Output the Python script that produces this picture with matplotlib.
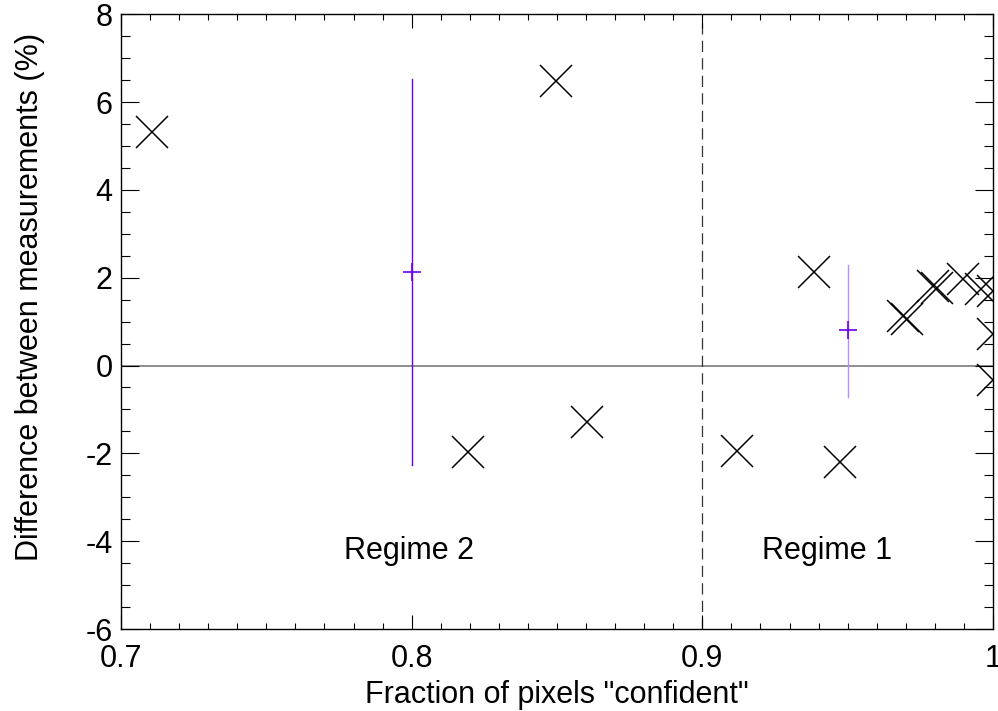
import numpy as np
import matplotlib
matplotlib.use("Agg")
import matplotlib.pyplot as plt
from matplotlib.ticker import MultipleLocator

plt.rcParams['font.family'] = ['Liberation Sans', 'DejaVu Sans']
plt.rcParams['axes.unicode_minus'] = False

# individual measurements (fraction confident, difference %)
frac = [0.7107, 0.8496, 0.8194, 0.8603, 0.9384, 0.9119, 0.9473,
        0.9690, 0.9703, 0.9793, 0.9808, 0.9898, 0.9958,
        1.0, 1.0, 1.0]
diff = [5.31, 6.47, -1.98, -1.28, 2.12, -1.94, -2.19,
        1.13, 1.07, 1.80, 1.76, 1.97, 1.74,
        1.69, 0.72, -0.32]

# regime means with error bars
reg_x = [0.80, 0.95]
reg_mean = [2.14, 0.80]
reg_low = [-2.26, -0.71]
reg_high = [6.52, 2.30]
reg_names = ["Regime 2", "Regime 1"]
reg_label_x = [0.799, 0.943]
reg_bar_colors = ['#6a00f0', '#b48cff']

fig = plt.figure(figsize=(9.98, 7.11), dpi=100)
ax = fig.add_axes([0.1212, 0.1153, 0.8738, 0.8647])

ax.plot(frac, diff, linestyle='none', marker='x', ms=23, mew=1.1, color='black')

for x, m, lo, hi, c in zip(reg_x, reg_mean, reg_low, reg_high, reg_bar_colors):
    ax.plot([x, x], [lo, hi], color=c, lw=1.0, zorder=3)
    ax.plot([x], [m], marker='+', ms=13, mew=1.2, color='#6a00f0', zorder=4)

ax.axhline(0, color='#707070', lw=1.1, zorder=1)
ax.axvline(0.9, color='#333333', lw=0.9, dashes=(9, 5), zorder=1)

for name, lx in zip(reg_names, reg_label_x):
    ax.text(lx, -4.22, name, ha='center', va='center', fontsize=22)

ax.set_xlim(0.7, 1.0)
ax.set_ylim(-6, 8)
ax.xaxis.set_major_locator(MultipleLocator(0.1))
ax.xaxis.set_minor_locator(MultipleLocator(0.01))
ax.yaxis.set_major_locator(MultipleLocator(2))
ax.yaxis.set_minor_locator(MultipleLocator(0.5))
ax.set_xticks([0.7, 0.8, 0.9, 1.0])
ax.set_xticklabels(['0.7', '0.8', '0.9', '1'])

ax.tick_params(axis='both', which='both', direction='in', top=True, right=True,
               labelsize=22, width=0.8)
ax.tick_params(axis='x', which='major', length=10, pad=11)
ax.tick_params(axis='x', which='minor', length=4.3)
ax.tick_params(axis='y', which='major', length=13, pad=6)
ax.tick_params(axis='y', which='minor', length=6.5)
for s in ax.spines.values():
    s.set_linewidth(1.0)

ax.set_xlabel('Fraction of pixels "confident"', fontsize=22)
ax.set_ylabel('Difference between measurements (%)', fontsize=22)
ax.xaxis.set_label_coords(0.5, -0.107)
ax.yaxis.set_label_coords(-0.104, 0.54)
ax.xaxis.label.set_va('center')
ax.yaxis.label.set_va('center')

fig.savefig("out.png", dpi=100)
